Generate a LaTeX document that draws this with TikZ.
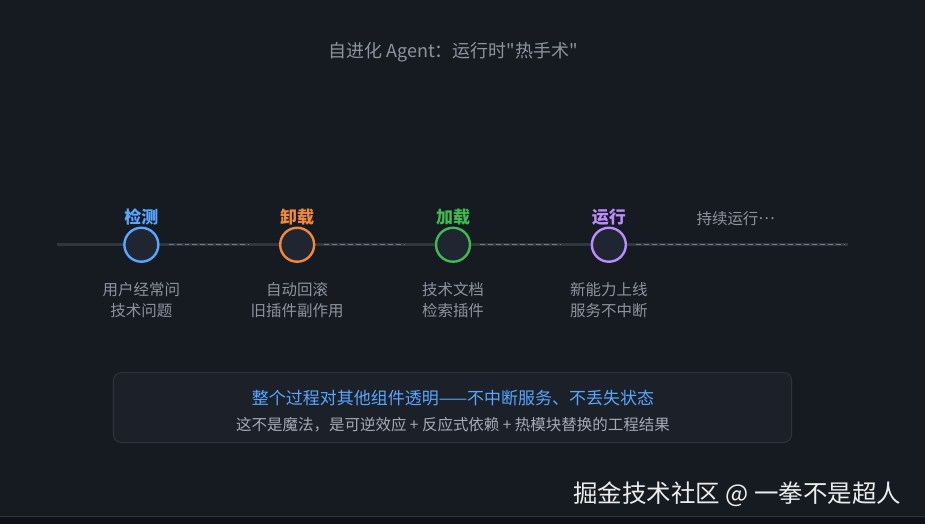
\documentclass[tikz,border=0pt]{standalone}
\usepackage{fontspec}
\setmainfont{Noto Sans CJK SC}[Ligatures=TeXOff]
\usetikzlibrary{positioning}
\definecolor{bgdark}{HTML}{161B22}
\definecolor{bgfoot}{HTML}{0E1117}
\definecolor{rail}{HTML}{30363D}
\definecolor{dashgray}{HTML}{6E7681}
\definecolor{textgray}{HTML}{8B949E}
\definecolor{notegray}{HTML}{A3ABB4}
\definecolor{stage-blue}{HTML}{58A6FF}
\definecolor{stage-orange}{HTML}{F0883E}
\definecolor{stage-green}{HTML}{3FB950}
\definecolor{stage-purple}{HTML}{BC8CFF}
\definecolor{dotfill}{HTML}{1F2531}
\definecolor{boxfill}{HTML}{1C2129}
\definecolor{boxline}{HTML}{2D333B}

\tikzset{
  stage/.style={circle, draw, line width=2.4pt, fill=dotfill, minimum size=34pt, inner sep=0pt},
  head/.style={inner sep=0pt, font=\bfseries\fontsize{17}{20}\selectfont},
  desc/.style={text=textgray, align=center, font=\fontsize{15.5}{21}\selectfont},
  flow/.style={dashgray, line width=1.2pt, dash pattern=on 5pt off 3pt}
}

\begin{document}
\begin{tikzpicture}[x=1pt, y=-1pt, node distance=1pt]
\fill[bgdark] (0,0) rectangle (925,517);
\fill[bgfoot] (0,517) rectangle (925,525);
\draw[rail, line width=1pt] (0,517) -- (925,517);
\useasboundingbox (0,0) rectangle (925,525);

\node[text=textgray, font=\fontsize{18}{21}\selectfont] (title) at (453,52) {自进化 Agent：运行时"热手术"};

% timeline
\coordinate (railstart) at (57,245);
\coordinate (railend) at (848,245);
\draw[rail, line width=2.5pt] (railstart) -- (railend);

\node[stage, draw=stage-blue] (detect) at (141,245) {};
\node[stage, draw=stage-orange] (unload) at (297,245) {};
\node[stage, draw=stage-green] (load) at (453,245) {};
\node[stage, draw=stage-purple] (run) at (609,245) {};
\coordinate (tail) at (848,245);

\draw
(detect) edge[flow, shorten <=9pt, shorten >=30pt] (unload)
(unload) edge[flow, shorten <=9pt, shorten >=30pt] (load)
(load) edge[flow, shorten <=9pt, shorten >=30pt] (run)
(run) edge[flow, shorten <=9pt, shorten >=3pt] (tail);

\node[head, text=stage-blue, above=of detect] (detect-head) {检测};
\node[head, text=stage-orange, above=of unload] (unload-head) {卸载};
\node[head, text=stage-green, above=of load] (load-head) {加载};
\node[head, text=stage-purple, above=of run] (run-head) {运行};
\node[text=textgray, font=\fontsize{15.5}{18}\selectfont] (keep) at (736,219) {持续运行\raisebox{0.3em}{…}};

\node[desc, below=16pt of detect] (detect-desc) {用户经常问\\技术问题};
\node[desc, below=16pt of unload] (unload-desc) {自动回滚\\旧插件副作用};
\node[desc, below=16pt of load] (load-desc) {技术文档\\检索插件};
\node[desc, below=16pt of run] (run-desc) {新能力上线\\服务不中断};

% summary box
\draw[boxline, fill=boxfill, line width=1pt, rounded corners=8pt] (113,373) rectangle (792,443);
\node[text=stage-blue, font=\fontsize{17}{20}\selectfont] (claim) at (453,398) {整个过程对其他组件透明——不中断服务、不丢失状态};
\node[text=notegray, font=\fontsize{15.5}{18}\selectfont] (note) at (453,425) {这不是魔法，是可逆效应 + 反应式依赖 + 热模块替换的工程结果};

\node[text=white!85!gray, font=\fontsize{24.5}{28}\selectfont, anchor=east] (mark) at (905,495) {掘金技术社区 @ 一拳不是超人};
\end{tikzpicture}
\end{document}
